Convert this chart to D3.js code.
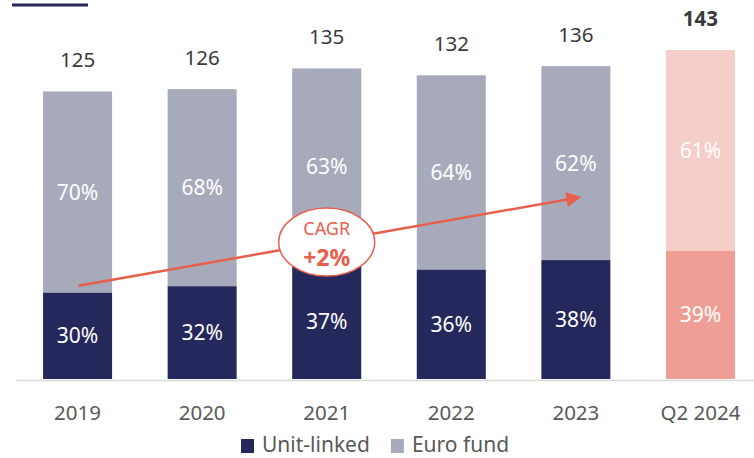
<!DOCTYPE html>
<html>
<head>
<meta charset="utf-8">
<script src="https://cdn.jsdelivr.net/npm/d3@7"></script>
<style>
  body { margin: 0; background: #fff; }
  svg text { font-family: "Noto Sans", sans-serif; }
</style>
</head>
<body>
<div id="chart"></div>
<script>
// data
const years = ["2019", "2020", "2021", "2022", "2023", "Q2 2024"];
const totals = [125, 126, 135, 132, 136, 143];
const unitLinkedPct = [30, 32, 37, 36, 38, 39];
const euroFundPct = [70, 68, 63, 64, 62, 61];
const legendItems = ["Unit-linked", "Euro fund"];
const cagrLabel = ["CAGR", "+2%"];

const width = 754, height = 458;
const navy = "#24285b", grey = "#a7aabb";
const pinkLight = "#f5cdc9", pinkDark = "#ee9e94";
const arrowRed = "#e8604c";

const svg = d3.select("#chart").append("svg")
  .attr("width", width).attr("height", height);

const x = d3.scaleBand().domain(years).range([20, 758])
  .paddingInner(0.446).paddingOuter(0.185);
const y = d3.scaleLinear().domain([0, 143]).range([379, 50]);

// little header rule top-left
svg.append("line").attr("x1", 12).attr("x2", 88).attr("y1", 5).attr("y2", 5)
  .attr("stroke", navy).attr("stroke-width", 3);

const rows = years.map((yr, i) => {
  const ul = totals[i] * unitLinkedPct[i] / 100;
  return { yr, total: totals[i], ul, ulPct: unitLinkedPct[i], euPct: euroFundPct[i], last: i === years.length - 1 };
});

const g = svg.append("g");
// euro fund (top) segments
g.selectAll(".eu").data(rows).enter().append("rect")
  .attr("x", d => x(d.yr)).attr("width", x.bandwidth())
  .attr("y", d => y(d.total)).attr("height", d => y(d.ul) - y(d.total))
  .attr("fill", d => d.last ? pinkLight : grey);
// unit-linked (bottom) segments
g.selectAll(".ul").data(rows).enter().append("rect")
  .attr("x", d => x(d.yr)).attr("width", x.bandwidth())
  .attr("y", d => y(d.ul)).attr("height", d => y(0) - y(d.ul))
  .attr("fill", d => d.last ? pinkDark : navy);

// baseline
svg.append("line").attr("x1", 16).attr("x2", width).attr("y1", 380.5).attr("y2", 380.5)
  .attr("stroke", "#d9d9d9").attr("stroke-width", 1.5);

// percentage labels
g.selectAll(".euT").data(rows).enter().append("text")
  .attr("x", d => x(d.yr) + x.bandwidth() / 2)
  .attr("y", d => (y(d.total) + y(d.ul)) / 2)
  .attr("dy", "0.36em").attr("text-anchor", "middle")
  .attr("font-size", 21).attr("fill", "#fff")
  .text(d => d.euPct + "%");
g.selectAll(".ulT").data(rows).enter().append("text")
  .attr("x", d => x(d.yr) + x.bandwidth() / 2)
  .attr("y", d => (y(d.ul) + y(0)) / 2)
  .attr("dy", "0.36em").attr("text-anchor", "middle")
  .attr("font-size", 21).attr("fill", "#fff")
  .text(d => d.ulPct + "%");

// totals above bars
g.selectAll(".tot").data(rows).enter().append("text")
  .attr("x", d => x(d.yr) + x.bandwidth() / 2)
  .attr("y", d => y(d.total) - 24)
  .attr("text-anchor", "middle").attr("font-size", 20.5)
  .attr("font-weight", d => d.last ? "bold" : "normal")
  .attr("fill", "#3a3a3a")
  .text(d => d.total);

// category axis labels
svg.append("g").attr("transform", "translate(0,381)")
  .call(d3.axisBottom(x).tickSize(0).tickPadding(0))
  .call(a => a.select(".domain").remove())
  .selectAll("text")
  .attr("y", 39).attr("dy", 0)
  .attr("font-size", 20.5).attr("fill", "#595959")
  .attr("font-family", "Noto Sans, sans-serif");

// CAGR arrow
const cx = yr => x(yr) + x.bandwidth() / 2;
svg.append("defs").append("marker")
  .attr("id", "head").attr("viewBox", "0 0 10 10")
  .attr("refX", 9).attr("refY", 5)
  .attr("markerWidth", 7).attr("markerHeight", 6)
  .attr("markerUnits", "strokeWidth").attr("orient", "auto")
  .append("path").attr("d", "M0,0 L10,5 L0,10 z").attr("fill", arrowRed);
svg.append("line")
  .attr("x1", cx("2019") + 1).attr("y1", y(40.5))
  .attr("x2", cx("2023") + 4).attr("y2", y(79))
  .attr("stroke", arrowRed).attr("stroke-width", 2.5)
  .attr("marker-end", "url(#head)");

const ex = cx("2021"), ey = y(59.5);
svg.append("ellipse").attr("cx", ex).attr("cy", ey).attr("rx", 48).attr("ry", 34)
  .attr("fill", "#fff").attr("stroke", arrowRed).attr("stroke-width", 1.5);
svg.append("text").attr("x", ex).attr("y", ey - 7).attr("text-anchor", "middle")
  .attr("font-size", 18).attr("fill", arrowRed).text(cagrLabel[0]);
svg.append("text").attr("x", ex).attr("y", ey + 24).attr("text-anchor", "middle")
  .attr("font-size", 23).attr("font-weight", "bold").attr("fill", arrowRed).text(cagrLabel[1]);

// legend
const legend = svg.append("g").attr("transform", "translate(241,0)");
let lx = 0;
legendItems.forEach((name, i) => {
  const it = legend.append("g").attr("transform", `translate(${lx},0)`);
  it.append("rect").attr("x", 0).attr("y", 439).attr("width", 13).attr("height", 14)
    .attr("fill", i === 0 ? navy : grey);
  const t = it.append("text").attr("x", 21).attr("y", 452)
    .attr("font-size", 21).attr("fill", "#595959").text(name);
  lx += 21 + t.node().getComputedTextLength() + 21;
});
</script>
</body>
</html>
